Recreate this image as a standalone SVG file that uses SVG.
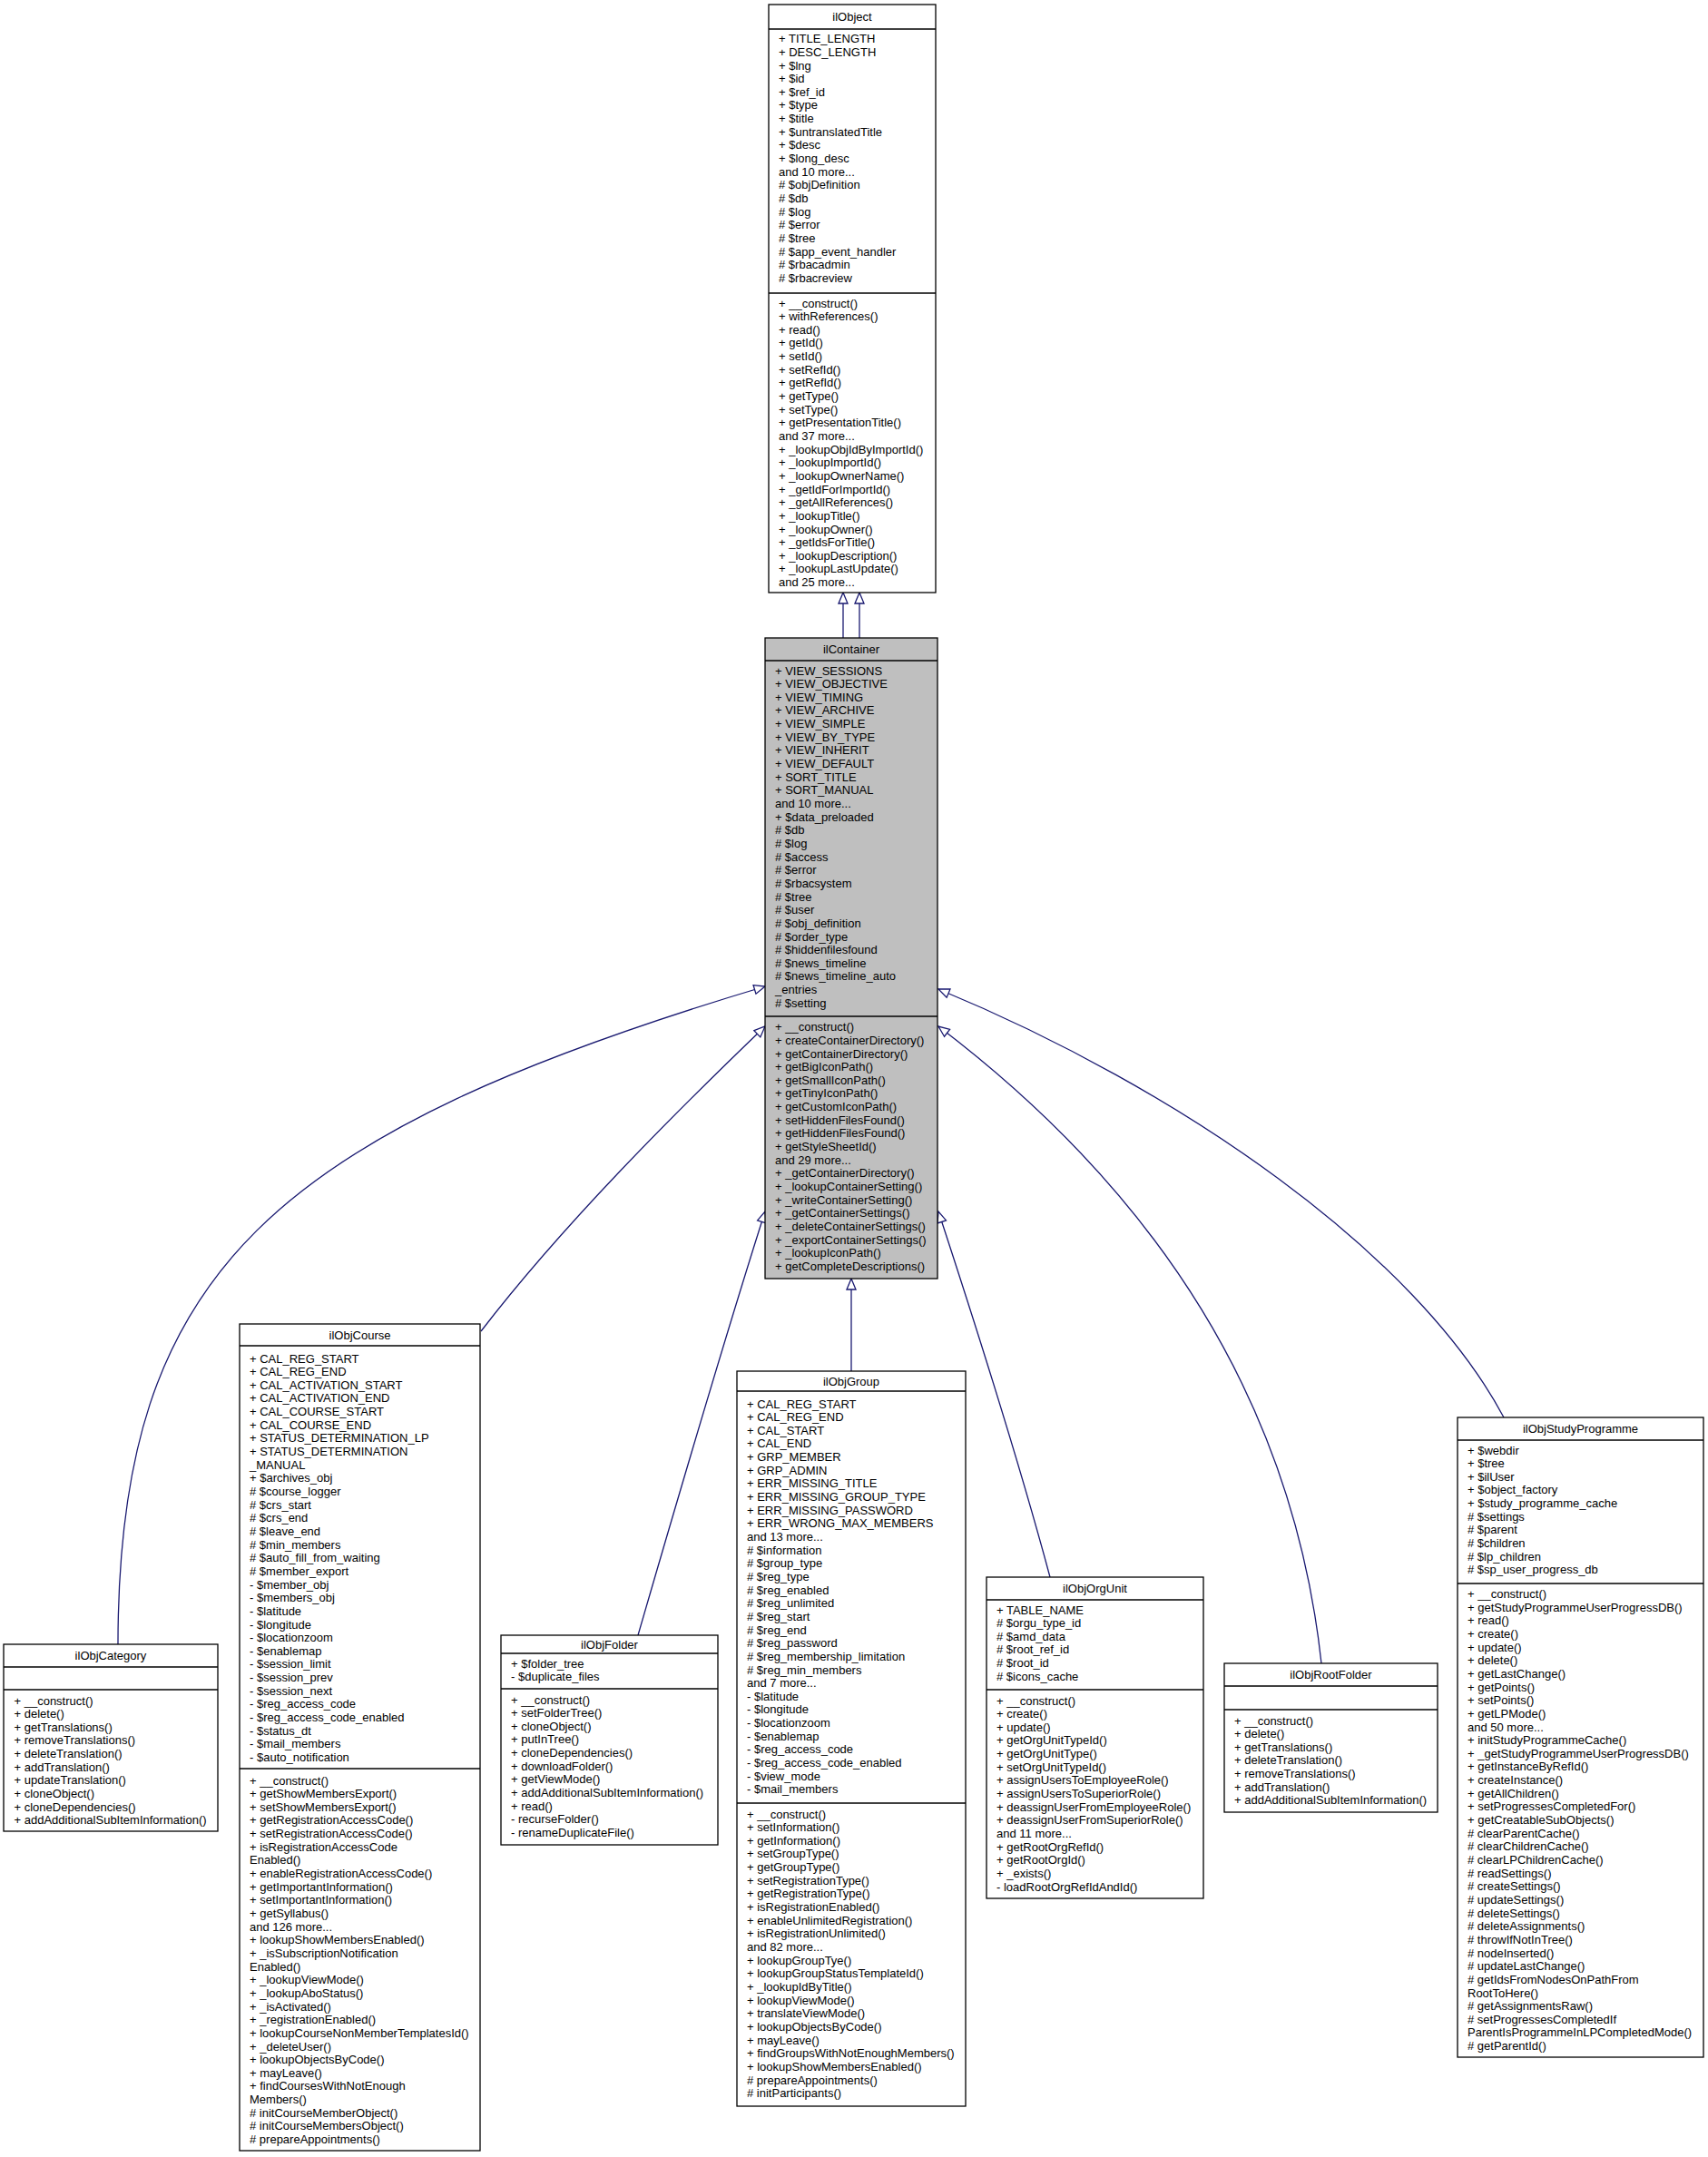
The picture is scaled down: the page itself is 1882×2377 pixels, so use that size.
<svg xmlns="http://www.w3.org/2000/svg" width="1882" height="2377" viewBox="0 0 1882 2377">
<style>
.t{font-family:"Liberation Sans",Arial,Helvetica,sans-serif;font-size:13px;fill:#000}
.c{text-anchor:middle}
.b{fill:#fff;stroke:#000;stroke-width:1.3}
.g{fill:#bfbfbf;stroke:#000;stroke-width:1.3}
.s{stroke:#000;stroke-width:1.3}
.e{fill:none;stroke:#191970;stroke-width:1.3;marker-end:url(#tri)}
</style>
<defs>
<marker id="tri" viewBox="0 0 14 12" markerWidth="14" markerHeight="12" refX="13" refY="6" orient="auto" markerUnits="userSpaceOnUse" overflow="visible">
<path d="M1,1 L13,6 L1,11 Z" fill="#fff" stroke="#191970" stroke-width="1.3"/>
</marker>
</defs>
<rect width="1882" height="2377" fill="#fff"/>

<g id="connectors">
<path class="e" d="M929,703 L929,653"/>
<path class="e" d="M947,703 L947,653"/>
<path class="e" d="M130,1812 C130,1400 300,1250 843,1087"/>
<path class="e" d="M530,1467 C620,1350 740,1230 843,1131"/>
<path class="e" d="M703,1802 C750,1640 800,1470 843,1335"/>
<path class="e" d="M938,1511 L938,1409"/>
<path class="e" d="M1157,1738 C1120,1600 1075,1460 1034,1335"/>
<path class="e" d="M1456,1833 C1420,1500 1230,1280 1034,1131"/>
<path class="e" d="M1657,1562 C1560,1380 1300,1200 1034,1090"/>
</g>

<g id="ilObject">
<rect class="b" x="847" y="5" width="184" height="648"/>
<line class="s" x1="847" y1="32" x2="1031" y2="32"/>
<line class="s" x1="847" y1="323" x2="1031" y2="323"/>
<text class="t c" x="939" y="23">ilObject</text>
<text class="t" x="858" y="47.2"><tspan x="858" dy="0">+ TITLE_LENGTH</tspan><tspan x="858" dy="14.65">+ DESC_LENGTH</tspan><tspan x="858" dy="14.65">+ $lng</tspan><tspan x="858" dy="14.65">+ $id</tspan><tspan x="858" dy="14.65">+ $ref_id</tspan><tspan x="858" dy="14.65">+ $type</tspan><tspan x="858" dy="14.65">+ $title</tspan><tspan x="858" dy="14.65">+ $untranslatedTitle</tspan><tspan x="858" dy="14.65">+ $desc</tspan><tspan x="858" dy="14.65">+ $long_desc</tspan><tspan x="858" dy="14.65">and 10 more...</tspan><tspan x="858" dy="14.65"># $objDefinition</tspan><tspan x="858" dy="14.65"># $db</tspan><tspan x="858" dy="14.65"># $log</tspan><tspan x="858" dy="14.65"># $error</tspan><tspan x="858" dy="14.65"># $tree</tspan><tspan x="858" dy="14.65"># $app_event_handler</tspan><tspan x="858" dy="14.65"># $rbacadmin</tspan><tspan x="858" dy="14.65"># $rbacreview</tspan></text>
<text class="t" x="858" y="338.5"><tspan x="858" dy="0">+ __construct()</tspan><tspan x="858" dy="14.65">+ withReferences()</tspan><tspan x="858" dy="14.65">+ read()</tspan><tspan x="858" dy="14.65">+ getId()</tspan><tspan x="858" dy="14.65">+ setId()</tspan><tspan x="858" dy="14.65">+ setRefId()</tspan><tspan x="858" dy="14.65">+ getRefId()</tspan><tspan x="858" dy="14.65">+ getType()</tspan><tspan x="858" dy="14.65">+ setType()</tspan><tspan x="858" dy="14.65">+ getPresentationTitle()</tspan><tspan x="858" dy="14.65">and 37 more...</tspan><tspan x="858" dy="14.65">+ _lookupObjIdByImportId()</tspan><tspan x="858" dy="14.65">+ _lookupImportId()</tspan><tspan x="858" dy="14.65">+ _lookupOwnerName()</tspan><tspan x="858" dy="14.65">+ _getIdForImportId()</tspan><tspan x="858" dy="14.65">+ _getAllReferences()</tspan><tspan x="858" dy="14.65">+ _lookupTitle()</tspan><tspan x="858" dy="14.65">+ _lookupOwner()</tspan><tspan x="858" dy="14.65">+ _getIdsForTitle()</tspan><tspan x="858" dy="14.65">+ _lookupDescription()</tspan><tspan x="858" dy="14.65">+ _lookupLastUpdate()</tspan><tspan x="858" dy="14.65">and 25 more...</tspan></text>
</g>

<g id="ilContainer">
<rect class="g" x="843" y="703" width="190" height="706"/>
<line class="s" x1="843" y1="728" x2="1033" y2="728"/>
<line class="s" x1="843" y1="1120" x2="1033" y2="1120"/>
<text class="t c" x="938" y="719.5">ilContainer</text>
<text class="t" x="854" y="743.5"><tspan x="854" dy="0">+ VIEW_SESSIONS</tspan><tspan x="854" dy="14.65">+ VIEW_OBJECTIVE</tspan><tspan x="854" dy="14.65">+ VIEW_TIMING</tspan><tspan x="854" dy="14.65">+ VIEW_ARCHIVE</tspan><tspan x="854" dy="14.65">+ VIEW_SIMPLE</tspan><tspan x="854" dy="14.65">+ VIEW_BY_TYPE</tspan><tspan x="854" dy="14.65">+ VIEW_INHERIT</tspan><tspan x="854" dy="14.65">+ VIEW_DEFAULT</tspan><tspan x="854" dy="14.65">+ SORT_TITLE</tspan><tspan x="854" dy="14.65">+ SORT_MANUAL</tspan><tspan x="854" dy="14.65">and 10 more...</tspan><tspan x="854" dy="14.65">+ $data_preloaded</tspan><tspan x="854" dy="14.65"># $db</tspan><tspan x="854" dy="14.65"># $log</tspan><tspan x="854" dy="14.65"># $access</tspan><tspan x="854" dy="14.65"># $error</tspan><tspan x="854" dy="14.65"># $rbacsystem</tspan><tspan x="854" dy="14.65"># $tree</tspan><tspan x="854" dy="14.65"># $user</tspan><tspan x="854" dy="14.65"># $obj_definition</tspan><tspan x="854" dy="14.65"># $order_type</tspan><tspan x="854" dy="14.65"># $hiddenfilesfound</tspan><tspan x="854" dy="14.65"># $news_timeline</tspan><tspan x="854" dy="14.65"># $news_timeline_auto</tspan><tspan x="854" dy="14.65">_entries</tspan><tspan x="854" dy="14.65"># $setting</tspan></text>
<text class="t" x="854" y="1136.2"><tspan x="854" dy="0">+ __construct()</tspan><tspan x="854" dy="14.65">+ createContainerDirectory()</tspan><tspan x="854" dy="14.65">+ getContainerDirectory()</tspan><tspan x="854" dy="14.65">+ getBigIconPath()</tspan><tspan x="854" dy="14.65">+ getSmallIconPath()</tspan><tspan x="854" dy="14.65">+ getTinyIconPath()</tspan><tspan x="854" dy="14.65">+ getCustomIconPath()</tspan><tspan x="854" dy="14.65">+ setHiddenFilesFound()</tspan><tspan x="854" dy="14.65">+ getHiddenFilesFound()</tspan><tspan x="854" dy="14.65">+ getStyleSheetId()</tspan><tspan x="854" dy="14.65">and 29 more...</tspan><tspan x="854" dy="14.65">+ _getContainerDirectory()</tspan><tspan x="854" dy="14.65">+ _lookupContainerSetting()</tspan><tspan x="854" dy="14.65">+ _writeContainerSetting()</tspan><tspan x="854" dy="14.65">+ _getContainerSettings()</tspan><tspan x="854" dy="14.65">+ _deleteContainerSettings()</tspan><tspan x="854" dy="14.65">+ _exportContainerSettings()</tspan><tspan x="854" dy="14.65">+ _lookupIconPath()</tspan><tspan x="854" dy="14.65">+ getCompleteDescriptions()</tspan></text>
</g>

<g id="ilObjCategory">
<rect class="b" x="4" y="1812" width="236" height="206"/>
<line class="s" x1="4" y1="1837" x2="240" y2="1837"/>
<line class="s" x1="4" y1="1862" x2="240" y2="1862"/>
<text class="t c" x="122" y="1829">ilObjCategory</text>
<text class="t" x="15.5" y="1878.5"><tspan x="15.5" dy="0">+ __construct()</tspan><tspan x="15.5" dy="14.65">+ delete()</tspan><tspan x="15.5" dy="14.65">+ getTranslations()</tspan><tspan x="15.5" dy="14.65">+ removeTranslations()</tspan><tspan x="15.5" dy="14.65">+ deleteTranslation()</tspan><tspan x="15.5" dy="14.65">+ addTranslation()</tspan><tspan x="15.5" dy="14.65">+ updateTranslation()</tspan><tspan x="15.5" dy="14.65">+ cloneObject()</tspan><tspan x="15.5" dy="14.65">+ cloneDependencies()</tspan><tspan x="15.5" dy="14.65">+ addAdditionalSubItemInformation()</tspan></text>
</g>

<g id="ilObjCourse">
<rect class="b" x="264" y="1459" width="265" height="911"/>
<line class="s" x1="264" y1="1483" x2="529" y2="1483"/>
<line class="s" x1="264" y1="1949" x2="529" y2="1949"/>
<text class="t c" x="396.5" y="1475.5">ilObjCourse</text>
<text class="t" x="275" y="1501.5"><tspan x="275" dy="0">+ CAL_REG_START</tspan><tspan x="275" dy="14.65">+ CAL_REG_END</tspan><tspan x="275" dy="14.65">+ CAL_ACTIVATION_START</tspan><tspan x="275" dy="14.65">+ CAL_ACTIVATION_END</tspan><tspan x="275" dy="14.65">+ CAL_COURSE_START</tspan><tspan x="275" dy="14.65">+ CAL_COURSE_END</tspan><tspan x="275" dy="14.65">+ STATUS_DETERMINATION_LP</tspan><tspan x="275" dy="14.65">+ STATUS_DETERMINATION</tspan><tspan x="275" dy="14.65">_MANUAL</tspan><tspan x="275" dy="14.65">+ $archives_obj</tspan><tspan x="275" dy="14.65"># $course_logger</tspan><tspan x="275" dy="14.65"># $crs_start</tspan><tspan x="275" dy="14.65"># $crs_end</tspan><tspan x="275" dy="14.65"># $leave_end</tspan><tspan x="275" dy="14.65"># $min_members</tspan><tspan x="275" dy="14.65"># $auto_fill_from_waiting</tspan><tspan x="275" dy="14.65"># $member_export</tspan><tspan x="275" dy="14.65">- $member_obj</tspan><tspan x="275" dy="14.65">- $members_obj</tspan><tspan x="275" dy="14.65">- $latitude</tspan><tspan x="275" dy="14.65">- $longitude</tspan><tspan x="275" dy="14.65">- $locationzoom</tspan><tspan x="275" dy="14.65">- $enablemap</tspan><tspan x="275" dy="14.65">- $session_limit</tspan><tspan x="275" dy="14.65">- $session_prev</tspan><tspan x="275" dy="14.65">- $session_next</tspan><tspan x="275" dy="14.65">- $reg_access_code</tspan><tspan x="275" dy="14.65">- $reg_access_code_enabled</tspan><tspan x="275" dy="14.65">- $status_dt</tspan><tspan x="275" dy="14.65">- $mail_members</tspan><tspan x="275" dy="14.65">- $auto_notification</tspan></text>
<text class="t" x="275" y="1966.5"><tspan x="275" dy="0">+ __construct()</tspan><tspan x="275" dy="14.65">+ getShowMembersExport()</tspan><tspan x="275" dy="14.65">+ setShowMembersExport()</tspan><tspan x="275" dy="14.65">+ getRegistrationAccessCode()</tspan><tspan x="275" dy="14.65">+ setRegistrationAccessCode()</tspan><tspan x="275" dy="14.65">+ isRegistrationAccessCode</tspan><tspan x="275" dy="14.65">Enabled()</tspan><tspan x="275" dy="14.65">+ enableRegistrationAccessCode()</tspan><tspan x="275" dy="14.65">+ getImportantInformation()</tspan><tspan x="275" dy="14.65">+ setImportantInformation()</tspan><tspan x="275" dy="14.65">+ getSyllabus()</tspan><tspan x="275" dy="14.65">and 126 more...</tspan><tspan x="275" dy="14.65">+ lookupShowMembersEnabled()</tspan><tspan x="275" dy="14.65">+ _isSubscriptionNotification</tspan><tspan x="275" dy="14.65">Enabled()</tspan><tspan x="275" dy="14.65">+ _lookupViewMode()</tspan><tspan x="275" dy="14.65">+ _lookupAboStatus()</tspan><tspan x="275" dy="14.65">+ _isActivated()</tspan><tspan x="275" dy="14.65">+ _registrationEnabled()</tspan><tspan x="275" dy="14.65">+ lookupCourseNonMemberTemplatesId()</tspan><tspan x="275" dy="14.65">+ _deleteUser()</tspan><tspan x="275" dy="14.65">+ lookupObjectsByCode()</tspan><tspan x="275" dy="14.65">+ mayLeave()</tspan><tspan x="275" dy="14.65">+ findCoursesWithNotEnough</tspan><tspan x="275" dy="14.65">Members()</tspan><tspan x="275" dy="14.65"># initCourseMemberObject()</tspan><tspan x="275" dy="14.65"># initCourseMembersObject()</tspan><tspan x="275" dy="14.65"># prepareAppointments()</tspan></text>
</g>

<g id="ilObjFolder">
<rect class="b" x="552" y="1802" width="239" height="231"/>
<line class="s" x1="552" y1="1822" x2="791" y2="1822"/>
<line class="s" x1="552" y1="1861" x2="791" y2="1861"/>
<text class="t c" x="671.5" y="1816.5">ilObjFolder</text>
<text class="t" x="563" y="1837.5"><tspan x="563" dy="0">+ $folder_tree</tspan><tspan x="563" dy="14.65">- $duplicate_files</tspan></text>
<text class="t" x="563" y="1877.5"><tspan x="563" dy="0">+ __construct()</tspan><tspan x="563" dy="14.65">+ setFolderTree()</tspan><tspan x="563" dy="14.65">+ cloneObject()</tspan><tspan x="563" dy="14.65">+ putInTree()</tspan><tspan x="563" dy="14.65">+ cloneDependencies()</tspan><tspan x="563" dy="14.65">+ downloadFolder()</tspan><tspan x="563" dy="14.65">+ getViewMode()</tspan><tspan x="563" dy="14.65">+ addAdditionalSubItemInformation()</tspan><tspan x="563" dy="14.65">+ read()</tspan><tspan x="563" dy="14.65">- recurseFolder()</tspan><tspan x="563" dy="14.65">- renameDuplicateFile()</tspan></text>
</g>

<g id="ilObjGroup">
<rect class="b" x="812" y="1511" width="252" height="810"/>
<line class="s" x1="812" y1="1533" x2="1064" y2="1533"/>
<line class="s" x1="812" y1="1987" x2="1064" y2="1987"/>
<text class="t c" x="938" y="1526.5">ilObjGroup</text>
<text class="t" x="823" y="1551.5"><tspan x="823" dy="0">+ CAL_REG_START</tspan><tspan x="823" dy="14.65">+ CAL_REG_END</tspan><tspan x="823" dy="14.65">+ CAL_START</tspan><tspan x="823" dy="14.65">+ CAL_END</tspan><tspan x="823" dy="14.65">+ GRP_MEMBER</tspan><tspan x="823" dy="14.65">+ GRP_ADMIN</tspan><tspan x="823" dy="14.65">+ ERR_MISSING_TITLE</tspan><tspan x="823" dy="14.65">+ ERR_MISSING_GROUP_TYPE</tspan><tspan x="823" dy="14.65">+ ERR_MISSING_PASSWORD</tspan><tspan x="823" dy="14.65">+ ERR_WRONG_MAX_MEMBERS</tspan><tspan x="823" dy="14.65">and 13 more...</tspan><tspan x="823" dy="14.65"># $information</tspan><tspan x="823" dy="14.65"># $group_type</tspan><tspan x="823" dy="14.65"># $reg_type</tspan><tspan x="823" dy="14.65"># $reg_enabled</tspan><tspan x="823" dy="14.65"># $reg_unlimited</tspan><tspan x="823" dy="14.65"># $reg_start</tspan><tspan x="823" dy="14.65"># $reg_end</tspan><tspan x="823" dy="14.65"># $reg_password</tspan><tspan x="823" dy="14.65"># $reg_membership_limitation</tspan><tspan x="823" dy="14.65"># $reg_min_members</tspan><tspan x="823" dy="14.65">and 7 more...</tspan><tspan x="823" dy="14.65">- $latitude</tspan><tspan x="823" dy="14.65">- $longitude</tspan><tspan x="823" dy="14.65">- $locationzoom</tspan><tspan x="823" dy="14.65">- $enablemap</tspan><tspan x="823" dy="14.65">- $reg_access_code</tspan><tspan x="823" dy="14.65">- $reg_access_code_enabled</tspan><tspan x="823" dy="14.65">- $view_mode</tspan><tspan x="823" dy="14.65">- $mail_members</tspan></text>
<text class="t" x="823" y="2003.5"><tspan x="823" dy="0">+ __construct()</tspan><tspan x="823" dy="14.65">+ setInformation()</tspan><tspan x="823" dy="14.65">+ getInformation()</tspan><tspan x="823" dy="14.65">+ setGroupType()</tspan><tspan x="823" dy="14.65">+ getGroupType()</tspan><tspan x="823" dy="14.65">+ setRegistrationType()</tspan><tspan x="823" dy="14.65">+ getRegistrationType()</tspan><tspan x="823" dy="14.65">+ isRegistrationEnabled()</tspan><tspan x="823" dy="14.65">+ enableUnlimitedRegistration()</tspan><tspan x="823" dy="14.65">+ isRegistrationUnlimited()</tspan><tspan x="823" dy="14.65">and 82 more...</tspan><tspan x="823" dy="14.65">+ lookupGroupTye()</tspan><tspan x="823" dy="14.65">+ lookupGroupStatusTemplateId()</tspan><tspan x="823" dy="14.65">+ _lookupIdByTitle()</tspan><tspan x="823" dy="14.65">+ lookupViewMode()</tspan><tspan x="823" dy="14.65">+ translateViewMode()</tspan><tspan x="823" dy="14.65">+ lookupObjectsByCode()</tspan><tspan x="823" dy="14.65">+ mayLeave()</tspan><tspan x="823" dy="14.65">+ findGroupsWithNotEnoughMembers()</tspan><tspan x="823" dy="14.65">+ lookupShowMembersEnabled()</tspan><tspan x="823" dy="14.65"># prepareAppointments()</tspan><tspan x="823" dy="14.65"># initParticipants()</tspan></text>
</g>

<g id="ilObjOrgUnit">
<rect class="b" x="1087" y="1738" width="239" height="354"/>
<line class="s" x1="1087" y1="1763" x2="1326" y2="1763"/>
<line class="s" x1="1087" y1="1862" x2="1326" y2="1862"/>
<text class="t c" x="1206.5" y="1754.5">ilObjOrgUnit</text>
<text class="t" x="1098" y="1778.5"><tspan x="1098" dy="0">+ TABLE_NAME</tspan><tspan x="1098" dy="14.65"># $orgu_type_id</tspan><tspan x="1098" dy="14.65"># $amd_data</tspan><tspan x="1098" dy="14.65"># $root_ref_id</tspan><tspan x="1098" dy="14.65"># $root_id</tspan><tspan x="1098" dy="14.65"># $icons_cache</tspan></text>
<text class="t" x="1098" y="1878.5"><tspan x="1098" dy="0">+ __construct()</tspan><tspan x="1098" dy="14.65">+ create()</tspan><tspan x="1098" dy="14.65">+ update()</tspan><tspan x="1098" dy="14.65">+ getOrgUnitTypeId()</tspan><tspan x="1098" dy="14.65">+ getOrgUnitType()</tspan><tspan x="1098" dy="14.65">+ setOrgUnitTypeId()</tspan><tspan x="1098" dy="14.65">+ assignUsersToEmployeeRole()</tspan><tspan x="1098" dy="14.65">+ assignUsersToSuperiorRole()</tspan><tspan x="1098" dy="14.65">+ deassignUserFromEmployeeRole()</tspan><tspan x="1098" dy="14.65">+ deassignUserFromSuperiorRole()</tspan><tspan x="1098" dy="14.65">and 11 more...</tspan><tspan x="1098" dy="14.65">+ getRootOrgRefId()</tspan><tspan x="1098" dy="14.65">+ getRootOrgId()</tspan><tspan x="1098" dy="14.65">+ _exists()</tspan><tspan x="1098" dy="14.65">- loadRootOrgRefIdAndId()</tspan></text>
</g>

<g id="ilObjRootFolder">
<rect class="b" x="1349" y="1833" width="235" height="164"/>
<line class="s" x1="1349" y1="1858" x2="1584" y2="1858"/>
<line class="s" x1="1349" y1="1884" x2="1584" y2="1884"/>
<text class="t c" x="1466.5" y="1849.5">ilObjRootFolder</text>
<text class="t" x="1360" y="1900.5"><tspan x="1360" dy="0">+ __construct()</tspan><tspan x="1360" dy="14.65">+ delete()</tspan><tspan x="1360" dy="14.65">+ getTranslations()</tspan><tspan x="1360" dy="14.65">+ deleteTranslation()</tspan><tspan x="1360" dy="14.65">+ removeTranslations()</tspan><tspan x="1360" dy="14.65">+ addTranslation()</tspan><tspan x="1360" dy="14.65">+ addAdditionalSubItemInformation()</tspan></text>
</g>

<g id="ilObjStudyProgramme">
<rect class="b" x="1606" y="1562" width="271" height="705"/>
<line class="s" x1="1606" y1="1587" x2="1877" y2="1587"/>
<line class="s" x1="1606" y1="1745" x2="1877" y2="1745"/>
<text class="t c" x="1741.5" y="1579">ilObjStudyProgramme</text>
<text class="t" x="1617" y="1602.5"><tspan x="1617" dy="0">+ $webdir</tspan><tspan x="1617" dy="14.65">+ $tree</tspan><tspan x="1617" dy="14.65">+ $ilUser</tspan><tspan x="1617" dy="14.65">+ $object_factory</tspan><tspan x="1617" dy="14.65">+ $study_programme_cache</tspan><tspan x="1617" dy="14.65"># $settings</tspan><tspan x="1617" dy="14.65"># $parent</tspan><tspan x="1617" dy="14.65"># $children</tspan><tspan x="1617" dy="14.65"># $lp_children</tspan><tspan x="1617" dy="14.65"># $sp_user_progress_db</tspan></text>
<text class="t" x="1617" y="1761"><tspan x="1617" dy="0">+ __construct()</tspan><tspan x="1617" dy="14.65">+ getStudyProgrammeUserProgressDB()</tspan><tspan x="1617" dy="14.65">+ read()</tspan><tspan x="1617" dy="14.65">+ create()</tspan><tspan x="1617" dy="14.65">+ update()</tspan><tspan x="1617" dy="14.65">+ delete()</tspan><tspan x="1617" dy="14.65">+ getLastChange()</tspan><tspan x="1617" dy="14.65">+ getPoints()</tspan><tspan x="1617" dy="14.65">+ setPoints()</tspan><tspan x="1617" dy="14.65">+ getLPMode()</tspan><tspan x="1617" dy="14.65">and 50 more...</tspan><tspan x="1617" dy="14.65">+ initStudyProgrammeCache()</tspan><tspan x="1617" dy="14.65">+ _getStudyProgrammeUserProgressDB()</tspan><tspan x="1617" dy="14.65">+ getInstanceByRefId()</tspan><tspan x="1617" dy="14.65">+ createInstance()</tspan><tspan x="1617" dy="14.65">+ getAllChildren()</tspan><tspan x="1617" dy="14.65">+ setProgressesCompletedFor()</tspan><tspan x="1617" dy="14.65">+ getCreatableSubObjects()</tspan><tspan x="1617" dy="14.65"># clearParentCache()</tspan><tspan x="1617" dy="14.65"># clearChildrenCache()</tspan><tspan x="1617" dy="14.65"># clearLPChildrenCache()</tspan><tspan x="1617" dy="14.65"># readSettings()</tspan><tspan x="1617" dy="14.65"># createSettings()</tspan><tspan x="1617" dy="14.65"># updateSettings()</tspan><tspan x="1617" dy="14.65"># deleteSettings()</tspan><tspan x="1617" dy="14.65"># deleteAssignments()</tspan><tspan x="1617" dy="14.65"># throwIfNotInTree()</tspan><tspan x="1617" dy="14.65"># nodeInserted()</tspan><tspan x="1617" dy="14.65"># updateLastChange()</tspan><tspan x="1617" dy="14.65"># getIdsFromNodesOnPathFrom</tspan><tspan x="1617" dy="14.65">RootToHere()</tspan><tspan x="1617" dy="14.65"># getAssignmentsRaw()</tspan><tspan x="1617" dy="14.65"># setProgressesCompletedIf</tspan><tspan x="1617" dy="14.65">ParentIsProgrammeInLPCompletedMode()</tspan><tspan x="1617" dy="14.65"># getParentId()</tspan></text>
</g>
</svg>
